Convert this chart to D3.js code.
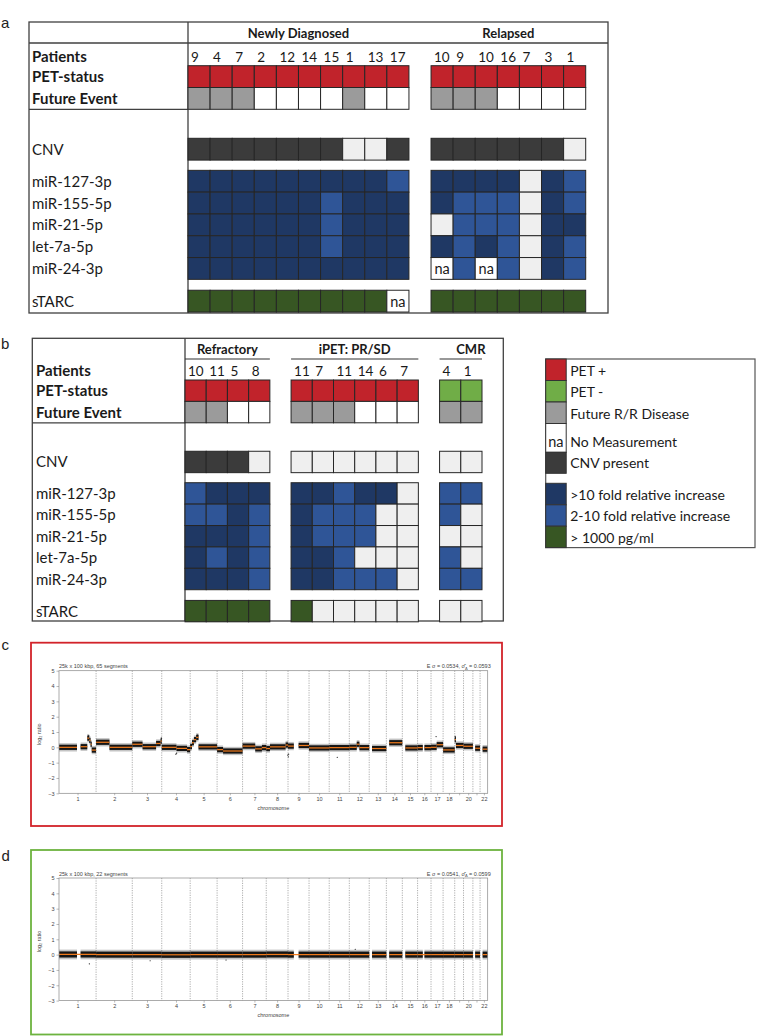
<!DOCTYPE html>
<html><head><meta charset="utf-8">
<script src="https://cdn.jsdelivr.net/npm/d3@7"></script>
<style>body{margin:0;background:#fff}</style>
</head><body><svg id="chart" width="777" height="1036"></svg>
<script>
// ================= DATA =================
const markers = ["PET-status","Future Event","CNV","miR-127-3p","miR-155-5p","miR-21-5p","let-7a-5p","miR-24-3p","sTARC"];
const boldLabels = ["Patients","PET-status","Future Event"];

// codes: R=PET+, P=PET-, G=future R/R, W=no event, D=CNV present, L=absent/none,
// N=>10 fold, M=2-10 fold, S=>1000 pg/ml, na=no measurement
const newlyPatients = ["9","4","7","2","12","14","15","1","13","17"];
const newlyCells = [
  "R R R R R R R R R R",
  "G G G W W W W G W W",
  "D D D D D D D L L D",
  "N N N N N N N N N M",
  "N N N N N N M N N N",
  "N N N N N N M N N N",
  "N N N N N N M N N N",
  "N N N N N N N N N N",
  "S S S S S S S S S na"];
const relapsedPatients = ["10","9","10","16","7","3","1"];
const relapsedCells = [
  "R R R R R R R",
  "G G G W W W W",
  "D D D D D D L",
  "N N N N L N M",
  "N M M M L N M",
  "L M M M L N N",
  "N M N M L N M",
  "na M na M L N M",
  "S S S S S S S"];
const refractoryPatients = ["10","11","5","8"];
const refractoryCells = ["R R R R","G G W W","D D D L","M N N N","M M N M","N N N M","N M N M","N N N M","S S S S"];
const ipetPatients = ["11","7","11","14","6","7"];
const ipetCells = ["R R R R R R","G G G W W W","L L L L L L","N N M N N L","N M M M L L","N M M M L L","N N M L L L","N N M M M L","S L L L L L"];
const cmrPatients = ["4","1"];
const cmrCells = ["P P","G G","L L","M M","M L","L L","M L","M M","L L"];

const groupTitlesA = ["Newly Diagnosed","Relapsed"];
const groupTitlesB = ["Refractory","iPET: PR/SD","CMR"];

const legendLabels = ["PET +","PET -","Future R/R Disease","No Measurement","CNV present",">10 fold relative increase","2-10 fold relative increase","> 1000 pg/ml"];
const legendCodes = ["R","P","G","na","D","N","M","S"];

// CNV profiles (hg19 autosome lengths, Mb)
const chromLengths = [249.25,243.20,198.02,191.15,180.92,171.12,159.14,146.36,141.21,135.53,135.01,133.85,115.17,107.35,102.53,90.35,81.20,78.08,59.13,63.03,48.13,51.30];
const chromTickLabels = ["1","2","3","4","5","6","7","8","9","10","11","12","13","14","15","16","17","18","","20","","22"];
const coveredRanges = [[1,0,121],[1,145,249],[2,0,243],[3,0,198],[4,0,191],[5,0,181],[6,0,171],[7,0,159],[8,0,146],[9,0,39],[9,71,141],[10,0,135],[11,0,135],[12,0,134],[13,19,115],[14,19,107],[15,20,102],[16,0,35],[16,46,90],[17,0,81],[18,0,78],[19,0,59],[20,0,63],[21,15,48],[22,17,51]];
const yTicks = [-3,-2,-1,0,1,2,3,4,5];
// [chrom, start Mb, end Mb, log2 ratio]
const segmentsC = [
  [1,0,121,0.0],[1,145,190,0.04],[1,190,203,0.6],[1,203,212,0.45],[1,212,220,0.2],[1,220,249,-0.18],
  [2,0,90,0.33],[2,90,243,0.0],
  [3,0,69,0.2],[3,69,160,0.04],[3,160,190,0.25],[3,190,198,0.4],
  [4,0,99,0.0],[4,99,170,-0.07],[4,170,191,-0.15],
  [5,0,12,0.05],[5,12,25,0.3],[5,25,40,0.5],[5,40,56,0.65],[5,56,181,0.03],
  [6,0,40,-0.15],[6,40,171,-0.24],
  [7,0,85,0.08],[7,85,130,-0.1],[7,130,159,-0.02],
  [8,0,25,-0.08],[8,25,130,0.03],[8,130,146,0.15],
  [9,0,39,0.08],[9,71,141,0.12],
  [10,0,135,-0.04],
  [11,0,135,-0.02],
  [12,0,50,0.0],[12,50,68,0.2],[12,68,134,-0.02],
  [13,19,115,-0.08],
  [14,19,107,0.3],
  [15,20,102,-0.04],
  [16,0,35,-0.02],[16,46,90,-0.02],
  [17,0,38,0.0],[17,38,81,0.17],
  [18,0,78,-0.17],
  [19,0,8,0.5],[19,8,59,0.12],
  [20,0,63,0.07],
  [21,15,48,-0.06],
  [22,17,51,-0.12]];
const outliersC = [[4,95,-0.45],[4,100,-0.38],[8,144,-0.5],[9,2,-0.62],[9,4,-0.45],[11,54,-0.65],[17,34,0.7],[3,196,0.6],[1,200,0.75],[5,50,0.8],[19,3,0.7]];
const segmentsD = [[1,0,249,0.01],[2,0,243,0.0],[3,0,198,0.0],[4,0,191,-0.01],[5,0,181,0.0],[6,0,171,0.0],[7,0,159,0.0],[8,0,146,0.01],[9,0,141,0.0],[10,0,135,0.0],[11,0,135,0.0],[12,0,134,0.0],[13,19,115,0.0],[14,19,107,0.0],[15,20,102,0.0],[16,0,90,0.0],[17,0,81,0.0],[18,0,78,0.0],[19,0,59,0.0],[20,0,63,0.0],[21,15,48,0.0],[22,17,51,0.0]];
const outliersD = [[1,204,-0.6],[3,120,-0.4],[6,60,-0.35],[12,40,0.35]];

// ================= DRAWING =================
const svg = d3.select("#chart");
svg.append("rect").attr("width",777).attr("height",1036).attr("fill","#fff");
const FONT = "Lato, 'Open Sans', sans-serif";
const PFONT = "'Liberation Sans', Arial, sans-serif";
const colorMap = {R:"#c1232b",P:"#70ad47",G:"#9b9b9b",W:"#ffffff",D:"#3b3b3b",L:"#efefef",N:"#1f3864",M:"#2f5597",S:"#375623",na:"#ffffff"};
const rowOffsets = [0,1,3.33,4.8,5.8,6.8,7.8,8.8,10.3];
const split = s => s.trim().split(/\s+/);

function panelLetter(t,x,y){
  svg.append("text").attr("x",x).attr("y",y).text(t)
    .attr("font-family",PFONT).attr("font-size",15).attr("fill","#222");
}

function drawTable(cfg){
  const g = svg.append("g");
  const domain = [];
  cfg.groups.forEach((grp,gi)=>{
    if(gi>0) domain.push("gap"+gi);
    grp.patients.forEach((p,i)=>domain.push(gi+"_"+i));
  });
  const x = d3.scaleBand().domain(domain).range([cfg.colX0,cfg.colX1]);
  const bw = x.bandwidth();
  const rowY = d3.scaleLinear().domain([0,1]).range([cfg.rowY0,cfg.rowY0+cfg.rowH]);

  g.append("rect").attr("x",cfg.boxX0).attr("y",cfg.boxY0)
    .attr("width",cfg.boxX1-cfg.boxX0).attr("height",cfg.boxY1-cfg.boxY0)
    .attr("fill","none").attr("stroke","#404040").attr("stroke-width",1.3);
  g.append("line").attr("x1",cfg.colX0).attr("x2",cfg.colX0).attr("y1",cfg.boxY0).attr("y2",cfg.boxY1)
    .attr("stroke","#404040").attr("stroke-width",1.3);
  g.append("line").attr("x1",cfg.boxX0).attr("x2",cfg.colX0).attr("y1",rowY(2)).attr("y2",rowY(2))
    .attr("stroke","#404040").attr("stroke-width",1.3);
  if(cfg.headerLineY) g.append("line").attr("x1",cfg.boxX0).attr("x2",cfg.boxX1)
    .attr("y1",cfg.headerLineY).attr("y2",cfg.headerLineY).attr("stroke","#404040").attr("stroke-width",1.3);

  cfg.groups.forEach((grp,gi)=>{
    const n = grp.patients.length;
    const gx0 = x(gi+"_0"), gx1 = x(gi+"_"+(n-1))+bw;
    const narrow = n<=2;
    g.append("text").attr("x", narrow ? gx1+3.5 : (gx0+gx1)/2).attr("y",cfg.headerY)
      .attr("text-anchor", narrow ? "end" : "middle").text(grp.title)
      .attr("font-family",FONT).attr("font-weight","bold").attr("font-size",13).attr("fill","#1a1a1a");
    if(cfg.underlineY) g.append("line").attr("x1",gx0).attr("x2",gx1).attr("y1",cfg.underlineY).attr("y2",cfg.underlineY)
      .attr("stroke","#333").attr("stroke-width",1.2);
    g.selectAll(null).data(grp.patients).enter().append("text")
      .attr("x",(p,i)=>x(gi+"_"+i)+3).attr("y",cfg.patientsY).text(p=>p)
      .attr("font-family",FONT).attr("font-size",13.5).attr("fill","#1a1a1a");
    grp.cells.forEach((rowStr,ri)=>{
      const codes = split(rowStr);
      const yTop = rowY(rowOffsets[ri]);
      g.selectAll(null).data(codes).enter().append("rect")
        .attr("x",(c,i)=>x(gi+"_"+i)).attr("y",yTop).attr("width",bw).attr("height",cfg.rowH)
        .attr("fill",c=>colorMap[c]).attr("stroke","#262626").attr("stroke-width",1);
      g.selectAll(null).data(codes.map((c,i)=>({c,i})).filter(d=>d.c==="na")).enter().append("text")
        .attr("x",d=>x(gi+"_"+d.i)+bw/2).attr("y",yTop+cfg.rowH/2+6).attr("text-anchor","middle").text("na")
        .attr("font-family",FONT).attr("font-size",14.5).attr("fill","#1a1a1a");
    });
  });

  const labels = ["Patients"].concat(markers);
  g.selectAll(null).data(labels).enter().append("text")
    .attr("x",cfg.labelX)
    .attr("y",(d,i)=> i===0 ? cfg.patientsY : rowY(rowOffsets[i-1])+cfg.rowH/2+5.5)
    .text(d=>d)
    .attr("font-family",FONT).attr("font-size",15)
    .attr("font-weight",d=>boldLabels.includes(d)?"bold":"normal").attr("fill","#1a1a1a");
}

// ---- panel a ----
panelLetter("a",1,28.3);
drawTable({
  boxX0:29,boxY0:22,boxX1:608,boxY1:313,colX0:188,colX1:585.7,rowY0:65.7,rowH:21.8,
  headerLineY:43,headerY:37.8,patientsY:61.5,labelX:32,
  groups:[{title:groupTitlesA[0],patients:newlyPatients,cells:newlyCells},
          {title:groupTitlesA[1],patients:relapsedPatients,cells:relapsedCells}]
});

// ---- panel b ----
panelLetter("b",1,349.3);
drawTable({
  boxX0:32.3,boxY0:338.3,boxX1:503.3,boxY1:621,colX0:185,colX1:482,rowY0:380,rowH:21.4,
  underlineY:359,headerY:353.8,patientsY:375.7,labelX:36,
  groups:[{title:groupTitlesB[0],patients:refractoryPatients,cells:refractoryCells},
          {title:groupTitlesB[1],patients:ipetPatients,cells:ipetCells},
          {title:groupTitlesB[2],patients:cmrPatients,cells:cmrCells}]
});

// ---- legend ----
(function(){
  const g = svg.append("g");
  const lx0=545.7, lx1=755, sw=20.5, ly0=359;
  const heights = [21.5,21.5,21.5,28.8,21,21.5,21.4,21.4];
  let yy = ly0; const tops=[];
  heights.forEach((h,i)=>{ if(i===5) yy+=10; tops.push(yy); yy+=h; });
  g.append("rect").attr("x",lx0).attr("y",ly0).attr("width",lx1-lx0).attr("height",yy-ly0)
    .attr("fill","#fff").attr("stroke","#555").attr("stroke-width",1.2);
  legendCodes.forEach((c,i)=>{
    g.append("rect").attr("x",lx0).attr("y",tops[i]).attr("width",sw).attr("height",heights[i])
      .attr("fill",colorMap[c]).attr("stroke","#333").attr("stroke-width",1);
    if(c==="na") g.append("text").attr("x",lx0+sw/2).attr("y",tops[i]+heights[i]-5).attr("text-anchor","middle")
      .text("na").attr("font-family",FONT).attr("font-size",14.5).attr("fill","#1a1a1a");
    g.append("text").attr("x",lx0+sw+4).attr("y",tops[i]+heights[i]-5).text(legendLabels[i])
      .attr("font-family",FONT).attr("font-size",14).attr("fill","#1a1a1a");
  });
})();

// ---- CNV profiles ----
function drawCNV(cfg){
  const g = svg.append("g");
  const total = d3.sum(chromLengths);
  const offsets = chromLengths.map((d,i)=>d3.sum(chromLengths.slice(0,i)));
  const x = d3.scaleLinear().domain([0,total]).range([59,487.7]);
  const y = d3.scaleLinear().domain([-3,5]).range([cfg.top+150.6,cfg.top+28]);
  const gpos = (c,mb)=>x(offsets[c-1]+mb);

  g.append("rect").attr("x",31).attr("y",cfg.top).attr("width",471).attr("height",cfg.height)
    .attr("fill","none").attr("stroke",cfg.color).attr("stroke-width",1.8);
  g.selectAll(null).data(offsets.slice(1)).enter().append("line")
    .attr("x1",d=>x(d)).attr("x2",d=>x(d)).attr("y1",y(5)).attr("y2",y(-3))
    .attr("stroke","#777").attr("stroke-width",0.6).attr("stroke-dasharray","1.2,1.2");
  const hw = cfg.band;
  const bands = [];
  cfg.segments.forEach(s=>{
    coveredRanges.filter(r=>r[0]===s[0]).forEach(r=>{
      const a=Math.max(s[1],r[1]), b=Math.min(s[2],r[2]);
      if(b>a) bands.push([s[0],a,b,s[3]]);
    });
  });
  // faint halo of scattered bins, then dense core
  g.selectAll(null).data(bands).enter().append("rect")
    .attr("x",d=>gpos(d[0],d[1])).attr("width",d=>gpos(d[0],d[2])-gpos(d[0],d[1]))
    .attr("y",d=>y(d[3]+hw*1.6)).attr("height",d=>y(d[3]-hw*1.6)-y(d[3]+hw*1.6))
    .attr("fill","#555").attr("opacity",0.35);
  g.selectAll(null).data(bands).enter().append("rect")
    .attr("x",d=>gpos(d[0],d[1])).attr("width",d=>gpos(d[0],d[2])-gpos(d[0],d[1]))
    .attr("y",d=>y(d[3]+hw)).attr("height",d=>y(d[3]-hw)-y(d[3]+hw))
    .attr("fill","#151515");
  g.selectAll(null).data(cfg.outliers).enter().append("circle")
    .attr("cx",d=>gpos(d[0],d[1])).attr("cy",d=>y(d[2])).attr("r",0.6).attr("fill","#111");
  g.selectAll(null).data(cfg.segments).enter().append("line")
    .attr("x1",d=>gpos(d[0],d[1])).attr("x2",d=>gpos(d[0],d[2]))
    .attr("y1",d=>y(d[3])).attr("y2",d=>y(d[3]))
    .attr("stroke","#f07a1c").attr("stroke-width",1.2);
  g.append("rect").attr("x",x(0)).attr("y",y(5)).attr("width",x(total)-x(0)).attr("height",y(-3)-y(5))
    .attr("fill","none").attr("stroke","#888").attr("stroke-width",0.7);
  const ya = g.append("g").attr("transform",`translate(${x(0)},0)`)
    .call(d3.axisLeft(y).tickValues(yTicks).tickSize(2.5).tickPadding(2).tickFormat(d3.format("d")));
  const centers = chromLengths.map((d,i)=>offsets[i]+d/2);
  const xa = g.append("g").attr("transform",`translate(0,${y(-3)})`)
    .call(d3.axisBottom(x).tickValues(centers).tickSize(2).tickPadding(2).tickFormat((d,i)=>chromTickLabels[i]));
  [ya,xa].forEach(a=>{
    a.select(".domain").remove();
    a.selectAll("line").attr("stroke","#777").attr("stroke-width",0.5);
    a.selectAll("text").attr("font-family",PFONT).attr("font-size",5.5).attr("fill","#444");
  });
  g.append("text").attr("x",(x(0)+x(total))/2).attr("y",y(-3)+16.5).attr("text-anchor","middle")
    .text("chromosome").attr("font-family",PFONT).attr("font-size",5.5).attr("fill","#444");
  g.append("text").attr("transform",`translate(41,${cfg.top+91.5}) rotate(-90)`).attr("text-anchor","middle")
    .text("log\u2082 ratio").attr("font-family",PFONT).attr("font-size",5.5).attr("fill","#444");
  g.append("text").attr("x",x(0)).attr("y",y(5)-2.3).text(cfg.titleLeft)
    .attr("font-family",PFONT).attr("font-size",5.5).attr("fill","#444");
  const tr = g.append("text").attr("x",x(total)+3).attr("y",y(5)-2.3).attr("text-anchor","end")
    .attr("font-family",PFONT).attr("font-size",5.5).attr("fill","#444");
  tr.append("tspan").text(cfg.titleRight[0]);
  tr.append("tspan").attr("font-size",4).attr("dy",1.2).text("\u0394");
  tr.append("tspan").attr("dy",-1.2).text(cfg.titleRight[1]);
}

panelLetter("c",1.5,649.5);
drawCNV({top:642.7,height:183.3,color:"#d2232a",band:0.17,segments:segmentsC,outliers:outliersC,
  titleLeft:"25k x 100 kbp, 65 segments",titleRight:["E \u03c3 = 0.0534, \u03c3\u0302"," = 0.0593"]});
panelLetter("d",1.5,860.5);
drawCNV({top:850,height:184.5,color:"#6db33f",band:0.2,segments:segmentsD,outliers:outliersD,
  titleLeft:"25k x 100 kbp, 22 segments",titleRight:["E \u03c3 = 0.0541, \u03c3\u0302"," = 0.0599"]});
</script>
</body></html>
